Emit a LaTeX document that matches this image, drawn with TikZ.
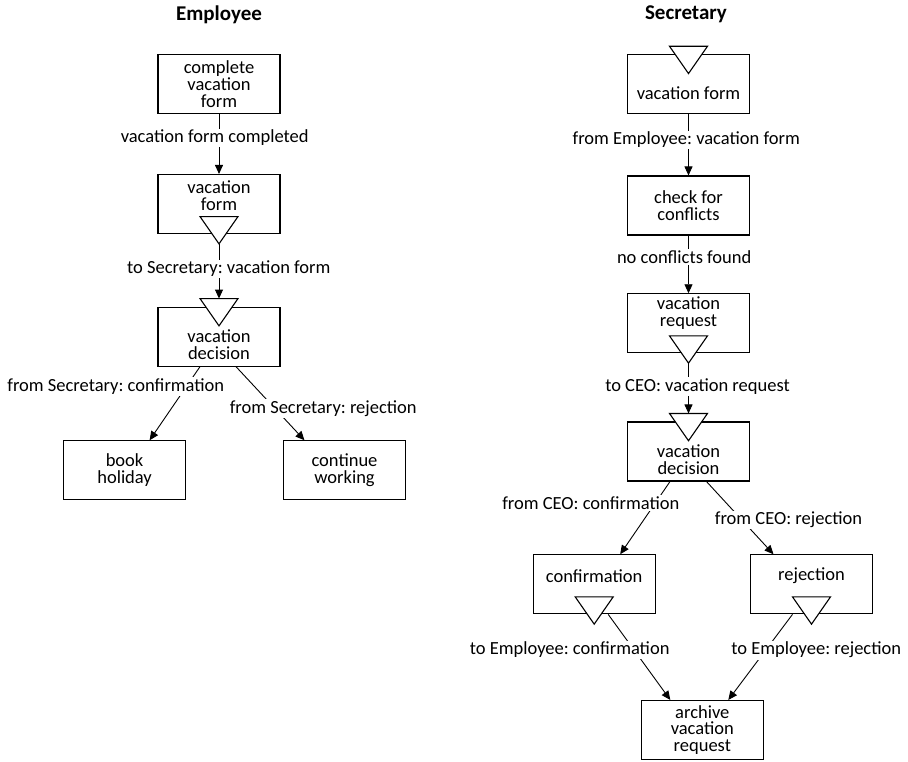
\documentclass[tikz,border=0pt]{standalone}
\usepackage{fontspec}
\setmainfont{Carlito}
\frenchspacing
\usetikzlibrary{arrows.meta}
\begin{document}
\begin{tikzpicture}[x=1pt,y=-1pt,
  box/.style={draw, line width=1.1pt, minimum width=122pt, minimum height=59pt, inner sep=0pt},
  boxtext/.style={align=center, inner sep=0pt, font=\fontsize{18.5}{16.7}\selectfont},
  lbl/.style={fill=white, inner xsep=1pt, inner ysep=1.5pt, font=\fontsize{18.5}{16.7}\selectfont},
  title/.style={inner sep=0pt, font=\fontsize{21}{24}\selectfont\bfseries},
  tri/.style={draw, fill=white, line width=1.1pt, line join=miter},
  conn/.style={line width=0.9pt, -{Triangle[length=9pt,width=8pt]}},
]
\useasboundingbox (0,0) rectangle (908,761);

% lane titles
\node[title] (t1) at (219,14.5) {Employee};
\node[title] (t2) at (686,14.5) {Secretary};

% Employee lane
\node[box] (e1) at (219,84) {};
\node[boxtext] (e1t) at (e1) {complete\\vacation\\form};
\node[box] (e2) at (219,204) {};
\node[boxtext] (e2t) at ([yshift=8pt]e2.center) {vacation\\form};
\node[box] (e3) at (219,336.6) {};
\node[boxtext] (e3t) at ([yshift=-8pt]e3.center) {vacation\\decision};
\node[box] (e4) at (124.6,470.3) {};
\node[boxtext] (e4t) at (e4) {book\\holiday};
\node[box] (e5) at (344.5,470.3) {};
\node[boxtext] (e5t) at (e5) {continue\\working};

% Secretary lane
\node[box] (s1) at (688.5,84.3) {};
\node[boxtext] (s1t) at ([yshift=-8.4pt]s1.center) {vacation form};
\node[box] (s2) at (688.5,205.5) {};
\node[boxtext] (s2t) at (s2) {check for\\conflicts};
\node[box] (s3) at (688.5,323.3) {};
\node[boxtext] (s3t) at ([yshift=10pt]s3.center) {vacation\\request};
\node[box] (s4) at (688.5,451.5) {};
\node[boxtext] (s4t) at ([yshift=-8.5pt]s4.center) {vacation\\decision};
\node[box] (s5) at (594.2,584.3) {};
\node[boxtext] (s5t) at ([yshift=8.3pt]s5.center) {confirmation};
\node[box] (s6) at (811.5,584.3) {};
\node[boxtext] (s6t) at ([yshift=9pt]s6.center) {rejection};
\node[box] (s7) at (702.3,730) {};
\node[boxtext] (s7t) at (s7) {archive\\vacation\\request};

% message triangles: outgoing at the bottom edge, incoming at the top edge
\draw[tri] ([yshift=17.5pt]e2.south) ++(-19,0) -- ++(38,0) -- ++(-19,27.3) -- cycle;
\draw[tri] ([yshift=17.5pt]s3.south) ++(-19,0) -- ++(38,0) -- ++(-19,27.3) -- cycle;
\draw[tri] ([yshift=17.5pt]s5.south) ++(-19,0) -- ++(38,0) -- ++(-19,27.3) -- cycle;
\draw[tri] ([yshift=17.5pt]s6.south) ++(-19,0) -- ++(38,0) -- ++(-19,27.3) -- cycle;
\draw[tri] ([yshift=8pt]e3.north) ++(-19,0) -- ++(38,0) -- ++(-19,27.3) -- cycle;
\draw[tri] ([yshift=8pt]s1.north) ++(-19,0) -- ++(38,0) -- ++(-19,27.3) -- cycle;
\draw[tri] ([yshift=8pt]s4.north) ++(-19,0) -- ++(38,0) -- ++(-19,27.3) -- cycle;

% triangle tips and tops used as connector ends
\coordinate (e2v) at ([yshift=-9.8pt]e2.south);
\coordinate (e3a) at ([yshift=8pt]e3.north);
\coordinate (s3v) at ([yshift=-9.8pt]s3.south);
\coordinate (s4a) at ([yshift=8pt]s4.north);

% connectors
\draw[conn] (e1.south) -- (e2.north);
\draw[conn] (e2v) -- (e3a);
\draw[conn] ([xshift=-19pt]e3.south) -- ([xshift=25pt]e4.north);
\draw[conn] ([xshift=17pt]e3.south) -- ([xshift=-40pt]e5.north);

\draw[conn] (s1.south) -- (s2.north);
\draw[conn] (s2.south) -- (s3.north);
\draw[conn] (s3v) -- (s4a);
\draw[conn] ([xshift=-18.5pt]s4.south) -- ([xshift=26pt]s5.north);
\draw[conn] ([xshift=18pt]s4.south) -- ([xshift=-38pt]s6.north);
\draw[conn] ([xshift=14pt]s5.south) -- ([xshift=-32pt]s7.north);
\draw[conn] ([xshift=-19pt]s6.south) -- ([xshift=26pt]s7.north);

% connector labels
\node[lbl] (l1) at (214.7,138) {vacation form completed};
\node[lbl] (l2) at (228.8,269) {to Secretary: vacation form};
\node[lbl] (l3) at (115.8,386.7) {from Secretary: confirmation};
\node[lbl] (l4) at (323.2,408.3) {from Secretary: rejection};
\node[lbl] (l5) at (686.2,140) {from Employee: vacation form};
\node[lbl] (l6) at (684.2,256.7) {no conflicts found};
\node[lbl] (l7) at (697.5,386.7) {to CEO: vacation request};
\node[lbl] (l8) at (590.8,503.3) {from CEO: confirmation};
\node[lbl] (l9) at (788.5,520) {from CEO: rejection};
\node[lbl] (l10) at (569.7,650) {to Employee: confirmation};
\node[lbl] (l11) at (816.2,650) {to Employee: rejection};
\end{tikzpicture}
\end{document}
